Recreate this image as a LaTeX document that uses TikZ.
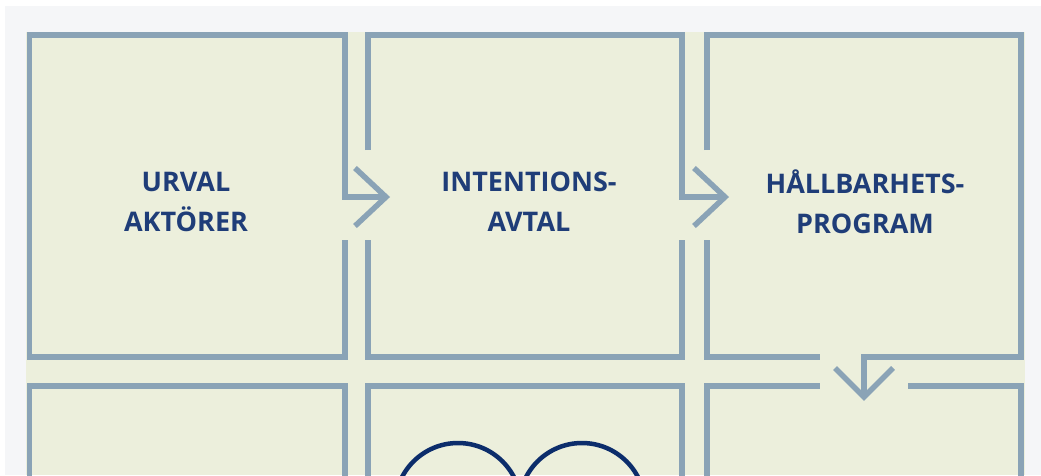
\documentclass[tikz,border=0pt]{standalone}
\usepackage{fontspec}
\setmainfont{Open Sans}
\definecolor{edge}{HTML}{8AA3B6}
\definecolor{paper}{HTML}{ECEFDC}
\definecolor{outer}{HTML}{F5F6F8}
\definecolor{txt}{HTML}{1F3D78}
\definecolor{navy}{HTML}{0C2D6B}
\tikzset{
  frameline/.style={draw=edge, line width=5.5pt, line join=miter, line cap=butt},
  label/.style={text=txt, font=\fontsize{27}{40}\selectfont\bfseries, align=center, inner sep=0pt},
  ring/.style={draw=navy, line width=4.5pt}
}
\begin{document}
\begin{tikzpicture}[x=1pt,y=-1pt]
\useasboundingbox (0,0) rectangle (1041,475);
\fill[white] (0,0) rectangle (1041,475);
\fill[outer] (5,6) rectangle (1041,475);
\fill[paper] (26,32) rectangle (1025,475);
% coordinates
\coordinate (a1) at (345,240);
\coordinate (b1) at (368,150);
\coordinate (b2) at (368,240);
\coordinate (c1) at (707,150);
\coordinate (c2) at (707,240);
% row 1, box 1
\draw[frameline] (a1) -- (345,357) -- (29.5,357) -- (29.5,35) -- (345,35) -- (345,197) -- (385,197);
\draw[frameline] (355,168) -- (386,197) -- (355,226);
% row 1, box 2
\draw[frameline] (b1) -- (368,35) -- (682,35) -- (682,197) -- (724,197);
\draw[frameline] (b2) -- (368,357) -- (682,357) -- (682,240);
\draw[frameline] (694,168) -- (725,197) -- (694,226);
% row 1, box 3
\draw[frameline] (c1) -- (707,35) -- (1021,35) -- (1021,357) -- (864,357) -- (864,396);
\draw[frameline] (c2) -- (707,357) -- (820,357);
\draw[frameline] (835,368) -- (864,397) -- (893,368);
% row 2
\draw[frameline] (29.5,480) -- (29.5,386) -- (345,386) -- (345,480);
\draw[frameline] (368,480) -- (368,386) -- (682,386) -- (682,480);
\draw[frameline] (707,480) -- (707,386) -- (820,386);
\draw[frameline] (908,386) -- (1021,386) -- (1021,480);
% rings
\begin{scope}
\clip (0,0) rectangle (1041,475);
\draw[ring] (458,506) circle (63);
\draw[ring] (582,506) circle (63);
\end{scope}
% labels
\node[label] (t1) at (186,202) {URVAL\\AKTÖRER};
\node[label] (t2) at (529,202) {INTENTIONS-\\AVTAL};
\node[label] (t3) at (865,202) {HÅLLBARHETS-\\PROGRAM};
\end{tikzpicture}
\end{document}
